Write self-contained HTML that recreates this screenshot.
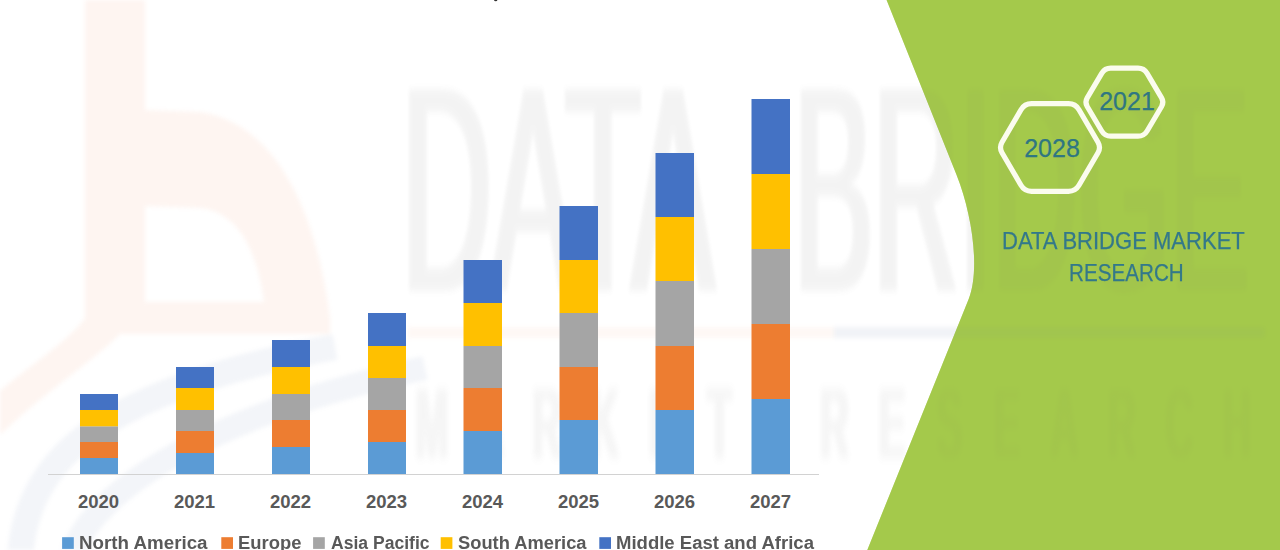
<!DOCTYPE html>
<html>
<head>
<meta charset="utf-8">
<style>
html,body{margin:0;padding:0;}
body{width:1280px;height:550px;overflow:hidden;background:#fff;position:relative;font-family:"Liberation Sans",sans-serif;}
#stage{position:absolute;left:0;top:0;width:1280px;height:550px;overflow:hidden;}
svg{position:absolute;left:0;top:0;}
.yl{position:absolute;top:491px;width:60px;margin-left:-30px;text-align:center;font-weight:bold;font-size:18.5px;line-height:22px;color:#595959;}
.lg{position:absolute;top:531.5px;font-weight:bold;font-size:18px;line-height:22px;color:#595959;white-space:nowrap;transform-origin:0 0;}
.hx{position:absolute;font-size:25px;line-height:30px;color:#2f7682;-webkit-text-stroke:0.25px #2f7682;text-align:center;width:100px;margin-left:-50px;}
.br{position:absolute;font-size:24px;line-height:31px;color:#33788a;-webkit-text-stroke:0.25px #33788a;white-space:nowrap;transform-origin:0 0;}
#wm{position:absolute;left:0;top:0;width:1280px;height:550px;overflow:hidden;pointer-events:none;}
.wt{position:absolute;white-space:nowrap;color:rgb(105,105,105);opacity:0.07;transform-origin:0 0;filter:blur(1.5px);}
#w1,#w1b{text-shadow:3px 0 0 rgb(105,105,105),-3px 0 0 rgb(105,105,105);}
#w2{text-shadow:1.5px 0 0 rgb(105,105,105),-1.5px 0 0 rgb(105,105,105);opacity:0.058;filter:blur(2px);}
#w1{left:402px;top:42.7px;font-size:124px;line-height:124px;transform:scale(1,2.356);}
#w1b{left:794px;top:42.7px;font-size:124px;line-height:124px;transform:scale(0.9576,2.356);}
#w2{left:403.25px;top:373px;font-size:40px;line-height:40px;font-weight:bold;transform:scale(1,2.5);}
#w2 span{display:inline-block;width:57.5px;text-align:center;}
</style>
</head>
<body>
<div id="stage">
<svg width="1280" height="550" viewBox="0 0 1280 550">
  <!-- green panel -->
  <path id="green" d="M886.6,0 L1280,0 L1280,550 L867.3,550 L968.5,299.5 C980.4,270.2 972.2,214 956.6,175.1 Z" fill="#a5c94b"/>
</svg>
<div id="wm">
<svg width="1280" height="550" viewBox="0 0 1280 550" style="filter:blur(2px)">
  <g fill="#f7956b" opacity="0.095">
    <path fill-rule="evenodd" d="M85,-5 L145,-5 L145,110 L200,112 C270,122 315,200 330,318 L330,334 L120,334 C95,360 40,395 -5,440 L-5,395 C30,365 70,340 85,318 Z M145,206 L145,302 L264,302 C258,255 240,212 200,208 Z"/>
  </g>
  <rect x="408" y="327" width="426" height="11" fill="#f7956b" opacity="0.07"/>
  <g fill="none" stroke="#5b78a8" opacity="0.075">
    <path d="M20,560 C25,460 100,390 335,347" stroke-width="26"/>
    <path d="M70,560 C90,490 210,415 425,368" stroke-width="24"/>
  </g>
  <rect x="834" y="327" width="431" height="11" fill="#5b78a8" opacity="0.085"/>
</svg>
<div class="wt" id="w1">DATA</div>
<div class="wt" id="w1b">BRIDGE</div>
<div class="wt" id="w2"><span>M</span><span>A</span><span>R</span><span>K</span><span>E</span><span>T</span><span>&nbsp;</span><span>R</span><span>E</span><span>S</span><span>E</span><span>A</span><span>R</span><span>C</span><span>H</span></div>
</div>
<svg width="1280" height="550" viewBox="0 0 1280 550">
  <path d="M886.6,0 L1280,0 L1280,550 L867.3,550 L968.5,299.5 C980.4,270.2 972.2,214 956.6,175.1 Z" fill="#a5c94b" opacity="0.45"/>
  <!-- axis -->
  <rect x="48" y="474" width="771" height="1" fill="#d2d2d2"/>
  <ellipse cx="495.7" cy="0.2" rx="1.6" ry="1" fill="#333"/>
  <g id="bars">
  <rect x="80" y="458" width="38" height="16" fill="#5b9bd5"/>
  <rect x="80" y="442" width="38" height="16" fill="#ed7d31"/>
  <rect x="80" y="426.3" width="38" height="15.7" fill="#a5a5a5"/>
  <rect x="80" y="410" width="38" height="16.3" fill="#ffc000"/>
  <rect x="80" y="394" width="38" height="16" fill="#4472c4"/>
  <rect x="176" y="453" width="38" height="21" fill="#5b9bd5"/>
  <rect x="176" y="431" width="38" height="22" fill="#ed7d31"/>
  <rect x="176" y="410" width="38" height="21" fill="#a5a5a5"/>
  <rect x="176" y="388" width="38" height="22" fill="#ffc000"/>
  <rect x="176" y="367" width="38" height="21" fill="#4472c4"/>
  <rect x="272" y="447" width="38" height="27" fill="#5b9bd5"/>
  <rect x="272" y="420" width="38" height="27" fill="#ed7d31"/>
  <rect x="272" y="394" width="38" height="26" fill="#a5a5a5"/>
  <rect x="272" y="367" width="38" height="27" fill="#ffc000"/>
  <rect x="272" y="340" width="38" height="27" fill="#4472c4"/>
  <rect x="368" y="442" width="38" height="32" fill="#5b9bd5"/>
  <rect x="368" y="410" width="38" height="32" fill="#ed7d31"/>
  <rect x="368" y="378" width="38" height="32" fill="#a5a5a5"/>
  <rect x="368" y="346" width="38" height="32" fill="#ffc000"/>
  <rect x="368" y="313" width="38" height="33" fill="#4472c4"/>
  <rect x="463.5" y="431" width="38.5" height="43" fill="#5b9bd5"/>
  <rect x="463.5" y="388" width="38.5" height="43" fill="#ed7d31"/>
  <rect x="463.5" y="346" width="38.5" height="42" fill="#a5a5a5"/>
  <rect x="463.5" y="303" width="38.5" height="43" fill="#ffc000"/>
  <rect x="463.5" y="260" width="38.5" height="43" fill="#4472c4"/>
  <rect x="559.5" y="420" width="38.5" height="54" fill="#5b9bd5"/>
  <rect x="559.5" y="367" width="38.5" height="53" fill="#ed7d31"/>
  <rect x="559.5" y="313" width="38.5" height="54" fill="#a5a5a5"/>
  <rect x="559.5" y="260" width="38.5" height="53" fill="#ffc000"/>
  <rect x="559.5" y="206" width="38.5" height="54" fill="#4472c4"/>
  <rect x="655.5" y="410" width="38.5" height="64" fill="#5b9bd5"/>
  <rect x="655.5" y="346" width="38.5" height="64" fill="#ed7d31"/>
  <rect x="655.5" y="281" width="38.5" height="65" fill="#a5a5a5"/>
  <rect x="655.5" y="217" width="38.5" height="64" fill="#ffc000"/>
  <rect x="655.5" y="153" width="38.5" height="64" fill="#4472c4"/>
  <rect x="751.5" y="399" width="38.5" height="75" fill="#5b9bd5"/>
  <rect x="751.5" y="324" width="38.5" height="75" fill="#ed7d31"/>
  <rect x="751.5" y="249" width="38.5" height="75" fill="#a5a5a5"/>
  <rect x="751.5" y="174" width="38.5" height="75" fill="#ffc000"/>
  <rect x="751.5" y="99" width="38.5" height="75" fill="#4472c4"/>
  <rect x="62.1" y="537.2" width="11.7" height="11.7" fill="#5b9bd5"/>
  <rect x="221.3" y="537.2" width="11.7" height="11.7" fill="#ed7d31"/>
  <rect x="313.1" y="537.2" width="11.7" height="11.7" fill="#a5a5a5"/>
  <rect x="440.7" y="537.2" width="11.7" height="11.7" fill="#ffc000"/>
  <rect x="599.3" y="537.2" width="11.7" height="11.7" fill="#4472c4"/>
  </g>
  <!-- hexagons -->
  <path d="M1002.0,152.7 Q999.0,147.5 1002.0,142.3 L1021.0,109.7 Q1024.5,103.7 1031.5,103.7 L1068.5,103.7 Q1075.5,103.7 1079.0,109.7 L1098.0,142.3 Q1101.0,147.5 1098.0,152.7 L1079.0,185.3 Q1075.5,191.3 1068.5,191.3 L1031.5,191.3 Q1024.5,191.3 1021.0,185.3 Z" fill="none" stroke="#fbfcee" stroke-width="5.2" stroke-linejoin="round"/>
  <path d="M1087.2,106.5 Q1084.6,102.2 1087.2,97.9 L1101.7,73.4 Q1104.8,68.2 1110.8,68.2 L1138.0,68.2 Q1144.0,68.2 1147.1,73.4 L1161.6,97.9 Q1164.2,102.2 1161.6,106.5 L1147.1,131.0 Q1144.0,136.2 1138.0,136.2 L1110.8,136.2 Q1104.8,136.2 1101.7,131.0 Z" fill="none" stroke="#fbfcee" stroke-width="5.2" stroke-linejoin="round"/>
</svg>
<div class="hx" style="left:1052px;top:133px;">2028</div>
<div class="hx" style="left:1127px;top:86px;">2021</div>
<div class="br" id="br1" style="left:1002px;top:225px;transform:scaleX(0.918)">DATA BRIDGE MARKET</div>
<div class="br" id="br2" style="left:1069px;top:257px;transform:scaleX(0.86)">RESEARCH</div>
<div class="yl" style="left:98.5px">2020</div>
<div class="yl" style="left:194.5px">2021</div>
<div class="yl" style="left:290.5px">2022</div>
<div class="yl" style="left:386.5px">2023</div>
<div class="yl" style="left:482.5px">2024</div>
<div class="yl" style="left:578.5px">2025</div>
<div class="yl" style="left:674.5px">2026</div>
<div class="yl" style="left:770.5px">2027</div>
<div class="lg" style="left:79.2px;transform:scaleX(1.0415)">North America</div>
<div class="lg" style="left:237.8px;transform:scaleX(1.022)">Europe</div>
<div class="lg" style="left:330.5px;transform:scaleX(0.975)">Asia Pacific</div>
<div class="lg" style="left:458.25px;transform:scaleX(1.017)">South America</div>
<div class="lg" style="left:615.7px;transform:scaleX(1.029)">Middle East and Africa</div>
</div>
</body>
</html>
